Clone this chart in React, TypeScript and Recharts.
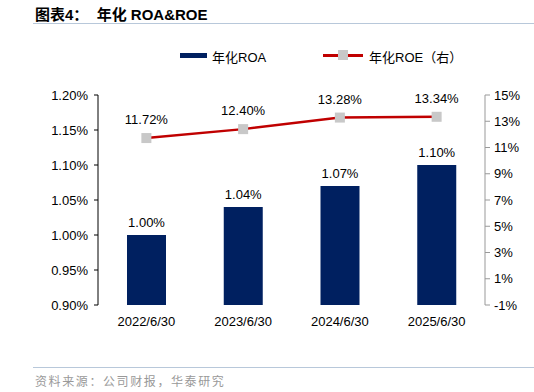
import React from 'react';
import { ComposedChart, Bar, Line, XAxis, YAxis, LabelList } from 'recharts';

const categories = ['2022/6/30', '2023/6/30', '2024/6/30', '2025/6/30'];
const roaValues = [1.0, 1.04, 1.07, 1.1];
const roeValues = [11.72, 12.4, 13.28, 13.34];
const leftTicks = [0.9, 0.95, 1.0, 1.05, 1.1, 1.15, 1.2];
const rightTicks = [-1, 1, 3, 5, 7, 9, 11, 13, 15];
const boundaryTicks = [0, 1, 2, 3, 4];

const data = categories.map((c, i) => ({ name: c, roa: roaValues[i], roe: roeValues[i] }));

const FONT = '"Liberation Sans", Arial, "Noto Sans CJK SC", sans-serif';
const CJK = '"Liberation Sans", Arial, "Noto Sans CJK SC", sans-serif';

const SquareDot = (props: any) => {
  const { cx, cy } = props;
  if (cx == null || cy == null) return null;
  return <rect x={cx - 5} y={cy - 5} width={10} height={10} fill="#C8C8C8" />;
};

export default function App() {
  return (
    <div style={{ position: 'absolute', left: 0, top: 0, width: 534, height: 392, background: '#fff', fontFamily: FONT }}>
      <div style={{ position: 'absolute', left: 35, top: 3, fontSize: 15, fontWeight: 'bold', color: '#000', fontFamily: CJK, whiteSpace: 'pre' }}>
        {'图表4：  年化 ROA&ROE'}
      </div>
      <div style={{ position: 'absolute', left: 33, top: 23, width: 501, height: 1, background: '#B8C8DA' }} />
      {/* legend */}
      <div style={{ position: 'absolute', left: 180, top: 53, width: 27, height: 5, background: '#002060' }} />
      <div style={{ position: 'absolute', left: 212, top: 47, fontSize: 13, color: '#000', fontFamily: CJK, whiteSpace: 'nowrap' }}>年化ROA</div>
      <div style={{ position: 'absolute', left: 323, top: 54, width: 40, height: 3, background: '#C00000' }} />
      <div style={{ position: 'absolute', left: 338, top: 50, width: 10, height: 10, background: '#C8C8C8' }} />
      <div style={{ position: 'absolute', left: 369, top: 47, fontSize: 13, color: '#000', fontFamily: CJK, whiteSpace: 'nowrap' }}>年化ROE（右）</div>
      <div style={{ position: 'absolute', left: 33, top: 367, width: 501, height: 1, background: '#B8C8DA' }} />
      <div style={{ position: 'absolute', left: 35, top: 372, fontSize: 12, color: '#999', fontFamily: CJK, whiteSpace: 'nowrap', letterSpacing: 1.6 }}>
        资料来源：公司财报，华泰研究
      </div>
      <div style={{ position: 'absolute', left: 0, top: 0 }}>
        <ComposedChart width={534} height={392} data={data} margin={{ top: 95, right: 0, bottom: 57, left: 0 }} barCategoryGap="30%">
          <XAxis
            xAxisId="b"
            type="number"
            domain={[0, 4]}
            ticks={boundaryTicks}
            height={0}
            tickFormatter={() => ''}
            tickSize={4}
            axisLine={{ stroke: '#000', strokeWidth: 1 }}
            tickLine={{ stroke: '#000' }}
            allowDataOverflow
          />
          <XAxis
            xAxisId="c"
            dataKey="name"
            height={30}
            axisLine={false}
            tickLine={false}
            tickSize={0}
            tickMargin={12}
            tick={{ fill: '#000', fontSize: 13, fontFamily: FONT }}
            interval={0}
          />
          <YAxis
            yAxisId="l"
            orientation="left"
            width={98}
            domain={[0.9, 1.2]}
            ticks={leftTicks}
            tickFormatter={(v: number) => v.toFixed(2) + '%'}
            axisLine={{ stroke: '#000' }}
            tickLine={{ stroke: '#000' }}
            tickSize={4}
            tickMargin={6}
            tick={{ fill: '#000', fontSize: 13, fontFamily: FONT }}
            allowDataOverflow
          />
          <YAxis
            yAxisId="r"
            orientation="right"
            width={49}
            domain={[-1, 15]}
            ticks={rightTicks}
            tickFormatter={(v: number) => v + '%'}
            axisLine={{ stroke: '#999' }}
            tickLine={{ stroke: '#999' }}
            tickSize={5}
            tickMargin={4}
            tick={{ fill: '#000', fontSize: 13, fontFamily: FONT }}
            allowDataOverflow
          />
          <Bar dataKey="roa" xAxisId="c" yAxisId="l" fill="#002060" barSize={39} isAnimationActive={false}>
            <LabelList dataKey="roa" position="top" offset={8} formatter={(v: number) => v.toFixed(2) + '%'} style={{ fill: '#000', fontSize: 13, fontFamily: FONT }} />
          </Bar>
          <Line
            dataKey="roe"
            xAxisId="c"
            yAxisId="r"
            stroke="#C00000"
            strokeWidth={2.5}
            dot={<SquareDot />}
            activeDot={false}
            isAnimationActive={false}
          >
            <LabelList dataKey="roe" position="top" offset={14} formatter={(v: number) => v.toFixed(2) + '%'} style={{ fill: '#000', fontSize: 13, fontFamily: FONT }} />
          </Line>
        </ComposedChart>
      </div>
    </div>
  );
}
